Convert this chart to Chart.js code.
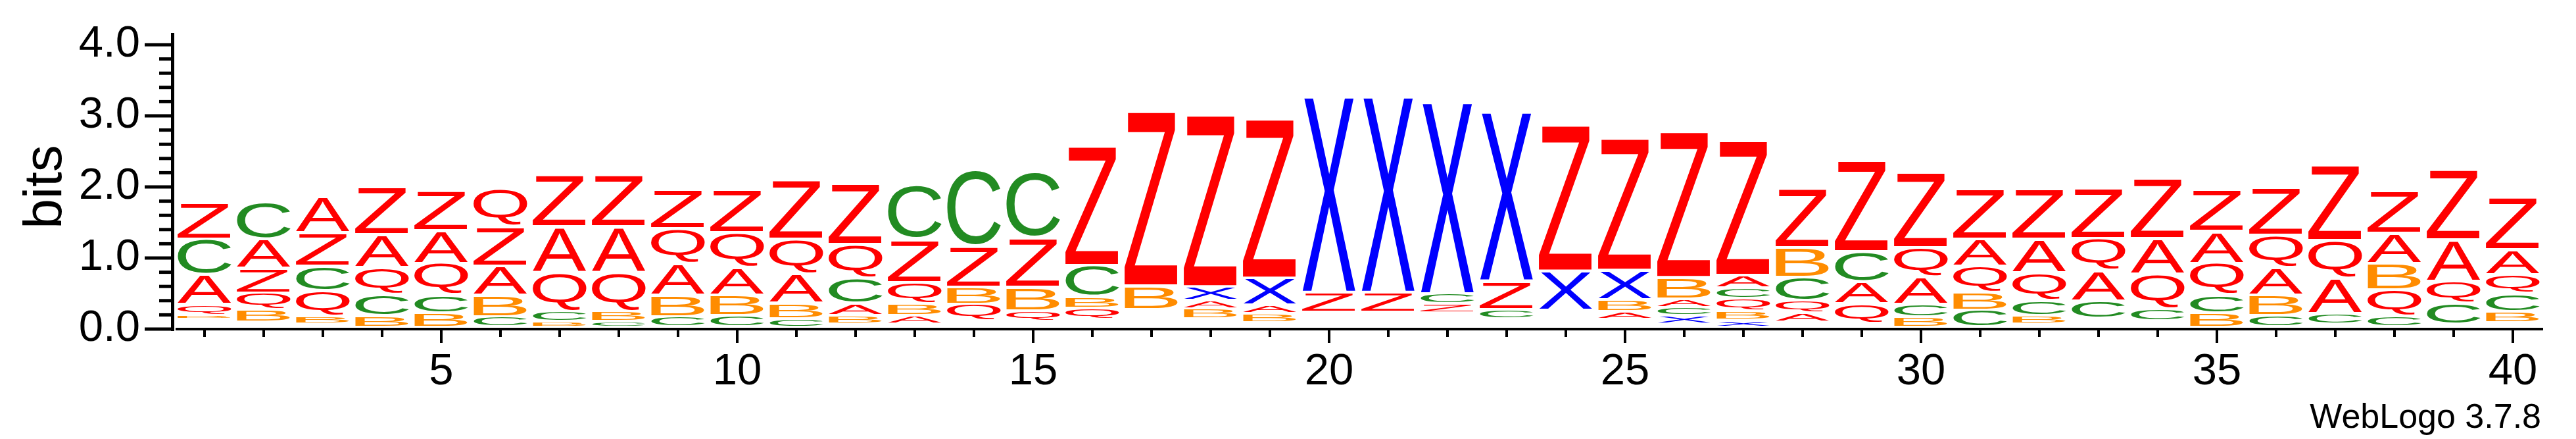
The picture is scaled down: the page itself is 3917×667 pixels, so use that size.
<!DOCTYPE html>
<html>
<head>
<meta charset="utf-8">
<title>WebLogo</title>
<script src="https://cdn.jsdelivr.net/npm/chart.js@4.4.1/dist/chart.umd.min.js"></script>
<style>
  html, body { margin: 0; padding: 0; background: #ffffff; }
  #logo { display: block; }
</style>
</head>
<body>
<canvas id="logo" width="3917" height="667"></canvas>
<script>
// Sequence positions (x categories) and the ones that get a label
const positions = [1, 2, 3, 4, 5, 6, 7, 8, 9, 10, 11, 12, 13, 14, 15, 16, 17, 18, 19, 20,
                   21, 22, 23, 24, 25, 26, 27, 28, 29, 30, 31, 32, 33, 34, 35, 36, 37, 38, 39, 40];
const labeledPositions = [5, 10, 15, 20, 25, 30, 35, 40];
const yTickLabels = ['0.0', '1.0', '2.0', '3.0', '4.0'];

// Letters of each column, bottom to top
const stackLetters = [
    'BQACZ', 'BQZAC', 'BQCZA', 'BCQAZ', 'BCQAZ', 'CBAZQ', 'BCQAZ', 'CBQAZ', 'CBAQZ', 'CBAQZ',
    'CBAQZ', 'XBACQZ', 'XABQZC', 'QBZC', 'QBZC', 'QBCZ', 'BZ', 'BAXZ', 'BAXZ', 'ZX',
    'ZX', 'ZCX', 'CZX', 'XZ', 'ABXZ', 'XCABZ', 'XBQCAZ', 'AQCBZ', 'QACZ', 'BCAQZ',
    'CBQAZ', 'BCQAZ', 'CAQZ', 'CQAZ', 'BCQAZ', 'CBAQZ', 'CAQZ', 'CQBAZ', 'CQAZ', 'BCQAZ'
];

// Height in bits of each of those letters, same order
const stackBits = [
    [0.06, 0.15, 0.42, 0.50, 0.52],
    [0.18, 0.23, 0.35, 0.41, 0.52],
    [0.11, 0.36, 0.35, 0.47, 0.51],
    [0.16, 0.30, 0.38, 0.46, 0.68],
    [0.20, 0.25, 0.45, 0.46, 0.57],
    [0.15, 0.30, 0.41, 0.55, 0.54],
    [0.08, 0.14, 0.55, 0.64, 0.74],
    [0.08, 0.14, 0.55, 0.64, 0.74],
    [0.15, 0.30, 0.45, 0.49, 0.56],
    [0.16, 0.29, 0.39, 0.49, 0.62],
    [0.12, 0.22, 0.41, 0.49, 0.84],
    [0.03, 0.12, 0.17, 0.36, 0.47, 0.87],
    [0.03, 0.12, 0.17, 0.30, 0.61, 0.77],
    [0.23, 0.24, 0.58, 1.08],
    [0.14, 0.33, 0.70, 0.93],
    [0.16, 0.16, 0.44, 1.70],
    [0.33, 2.50],
    [0.14, 0.12, 0.19, 2.46],
    [0.13, 0.12, 0.38, 2.28],
    [0.28, 2.80],
    [0.28, 2.80],
    [0.13, 0.14, 2.74],
    [0.13, 0.40, 2.42],
    [0.55, 2.09],
    [0.11, 0.17, 0.41, 1.89],
    [0.12, 0.12, 0.12, 0.30, 2.09],
    [0.10, 0.13, 0.17, 0.15, 0.18, 1.93],
    [0.13, 0.17, 0.33, 0.42, 0.85],
    [0.29, 0.31, 0.42, 1.30],
    [0.14, 0.18, 0.38, 0.42, 1.08],
    [0.24, 0.25, 0.37, 0.38, 0.71],
    [0.12, 0.21, 0.40, 0.47, 0.71],
    [0.25, 0.42, 0.46, 0.71],
    [0.17, 0.49, 0.50, 0.86],
    [0.20, 0.25, 0.45, 0.45, 0.59],
    [0.16, 0.29, 0.38, 0.46, 0.68],
    [0.15, 0.49, 0.54, 1.08],
    [0.15, 0.38, 0.37, 0.42, 0.61],
    [0.29, 0.32, 0.58, 1.00],
    [0.16, 0.25, 0.27, 0.35, 0.75]
];

// Combined bits of the letters too small to show, at the foot of each column
const minorBits = [
    0.14, 0.10, 0.07, 0.03, 0.03, 0.03, 0.03, 0.03, 0.03, 0.03,
    0.03, 0.04, 0.04, 0.12, 0.12, 0.14, 0.28, 0.15, 0.09, 0.24,
    0.24, 0.23, 0.15, 0.27, 0.14, 0.07, 0.03, 0.10, 0.07, 0.03,
    0.03, 0.07, 0.15, 0.12, 0.03, 0.03, 0.07, 0.03, 0.07, 0.09
];

const letterColors = {
    A: '#ff0000', Q: '#ff0000', Z: '#ff0000',
    C: '#228b22', B: '#ff8c00', X: '#0000ff'
};

const textFont = '"Liberation Sans", Arial, Helvetica, sans-serif';

document.addEventListener('DOMContentLoaded', function() {
    // One stacked dataset per layer of the columns; the first holds the minor letters
    const depth = Math.max(...stackLetters.map(s => s.length));
    const datasets = [{
        label: 'minor',
        data: minorBits,
        letters: positions.map(() => '')
    }];
    for (let k = 0; k < depth; k++) {
        datasets.push({
            label: 'layer ' + (k + 1),
            data: stackBits.map(col => col[k] || 0),
            letters: stackLetters.map(s => s[k] || '')
        });
    }
    datasets.forEach(ds => {
        ds.backgroundColor = 'rgba(0,0,0,0)';
        ds.borderWidth = 0;
        ds.barPercentage = 0.911;
        ds.categoryPercentage = 1.0;
    });

    // Ink box of every glyph, measured once
    const glyphFont = '400px ' + textFont;
    const glyphCache = {};
    function glyphMetrics(ctx, ch) {
        if (!glyphCache[ch]) {
            ctx.save();
            ctx.font = glyphFont;
            const m = ctx.measureText(ch);
            ctx.restore();
            glyphCache[ch] = {
                left: m.actualBoundingBoxLeft,
                ascent: m.actualBoundingBoxAscent,
                w: m.actualBoundingBoxLeft + m.actualBoundingBoxRight,
                h: m.actualBoundingBoxAscent + m.actualBoundingBoxDescent
            };
        }
        return glyphCache[ch];
    }

    // Draws each bar as its letter stretched to fill the bar
    const letterPlugin = {
        id: 'letters',
        afterDatasetsDraw(chart) {
            const ctx = chart.ctx;
            chart.data.datasets.forEach((ds, d) => {
                const meta = chart.getDatasetMeta(d);
                meta.data.forEach((bar, i) => {
                    const ch = ds.letters[i];
                    if (!ch) return;
                    const p = bar.getProps(['x', 'y', 'base', 'width'], true);
                    const top = Math.min(p.y, p.base) + 2;
                    const bottom = Math.max(p.y, p.base) - 2;
                    const h = bottom - top;
                    if (h < 0.6) return;
                    const g = glyphMetrics(ctx, ch);
                    ctx.save();
                    ctx.translate(p.x - p.width / 2, top);
                    ctx.scale(p.width / g.w, h / g.h);
                    ctx.font = glyphFont;
                    ctx.textAlign = 'left';
                    ctx.textBaseline = 'alphabetic';
                    ctx.fillStyle = letterColors[ch];
                    ctx.fillText(ch, g.left, g.ascent);
                    ctx.restore();
                });
            });
        }
    };

    // Axis lines, tick marks and the version note
    const axisPlugin = {
        id: 'logoAxes',
        afterDraw(chart) {
            const ctx = chart.ctx;
            const area = chart.chartArea;
            const xs = chart.scales.x;
            const ys = chart.scales.y;
            ctx.save();
            ctx.fillStyle = '#000000';

            // y axis
            const axisX = area.left - 6;
            ctx.fillRect(axisX, area.top - 18, 5, area.bottom - area.top + 21);
            ys.ticks.forEach(t => {
                const py = ys.getPixelForValue(t.value);
                const major = Math.abs(t.value - Math.round(t.value)) < 1e-6;
                const len = major ? 40 : 18;
                ctx.fillRect(axisX - len, py - 2.5, len, 5);
            });

            // x axis
            ctx.fillRect(area.left + 1, area.bottom - 2, area.right - area.left, 4);
            positions.forEach((pos, i) => {
                const px = xs.getPixelForValue(i);
                const len = labeledPositions.includes(pos) ? 20 : 11;
                ctx.fillRect(px - 2, area.bottom + 1, 4, len);
            });

            ctx.font = '52px ' + textFont;
            ctx.textAlign = 'right';
            ctx.textBaseline = 'alphabetic';
            ctx.fillText('WebLogo 3.7.8', area.right - 2, 650);
            ctx.restore();
        }
    };

    new Chart(document.getElementById('logo'), {
        type: 'bar',
        data: {
            labels: positions.map(String),
            datasets: datasets
        },
        options: {
            responsive: false,
            animation: false,
            devicePixelRatio: 1,
            layout: {
                padding: { top: 68, right: 51, left: 0, bottom: 0 }
            },
            plugins: {
                legend: { display: false },
                tooltip: { enabled: false }
            },
            scales: {
                x: {
                    stacked: true,
                    // tick marks are drawn by logoAxes; tickLength only spaces the labels
                    grid: { display: false, drawTicks: true, tickLength: 25 },
                    border: { display: false },
                    ticks: {
                        autoSkip: false,
                        maxRotation: 0,
                        minRotation: 0,
                        padding: 0,
                        color: '#000000',
                        font: { size: 67, family: textFont },
                        callback: function(value, index) {
                            return labeledPositions.includes(positions[index]) ? String(positions[index]) : '';
                        }
                    },
                    afterFit: function(scale) { scale.height = 167; }
                },
                y: {
                    stacked: true,
                    min: 0,
                    max: 4,
                    grid: { display: false, drawTicks: true, tickLength: 53 },
                    border: { display: false },
                    ticks: {
                        stepSize: 0.2,
                        autoSkip: false,
                        padding: 0,
                        color: '#000000',
                        font: { size: 67, family: textFont },
                        callback: function(value) {
                            const r = Math.round(value);
                            return Math.abs(value - r) < 1e-6 ? yTickLabels[r] : '';
                        }
                    },
                    title: {
                        display: true,
                        text: 'bits',
                        color: '#000000',
                        font: { size: 82, family: textFont },
                        padding: { top: 21, bottom: 0 }
                    },
                    afterFit: function(scale) { scale.width = 266; }
                }
            }
        },
        plugins: [letterPlugin, axisPlugin]
    });
});
</script>
</body>
</html>
